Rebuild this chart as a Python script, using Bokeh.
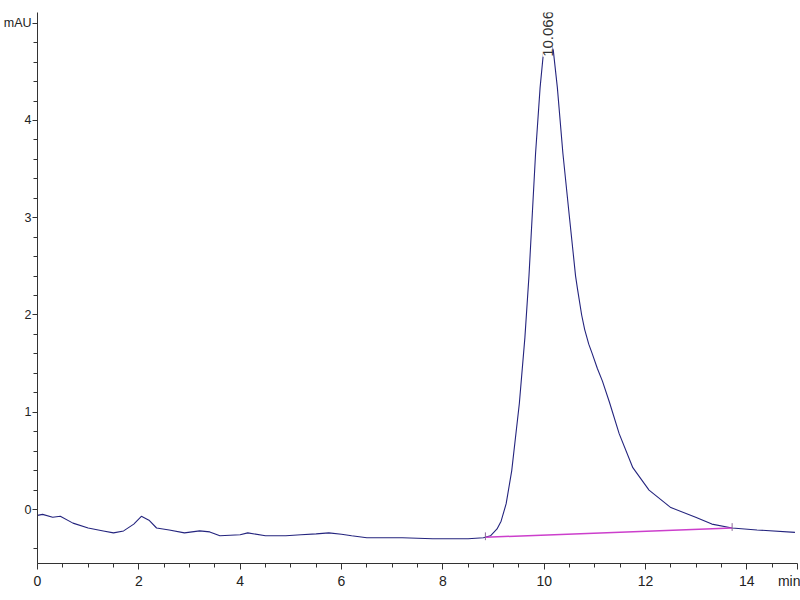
import math
from bokeh.plotting import figure
from bokeh.models import Range1d, FixedTicker, Label
from bokeh.embed import file_html
from bokeh.resources import INLINE

# ---- data ----
time_min = [0, 0.1, 0.3, 0.45, 0.7, 1.0, 1.3, 1.5, 1.7, 1.9, 2.05, 2.2, 2.35, 2.6, 2.9,
            3.2, 3.4, 3.6, 4.0, 4.15, 4.5, 4.9, 5.2, 5.5, 5.75, 6.0, 6.2, 6.5, 7.2, 7.8,
            8.5, 8.8, 8.94, 9.07, 9.15, 9.25, 9.36, 9.51, 9.62, 9.70, 9.83, 9.92, 9.99,
            10.07, 10.18, 10.26, 10.37, 10.50, 10.62, 10.66, 10.74, 10.80, 10.88, 10.95,
            11.05, 11.15, 11.29, 11.48, 11.75, 12.07, 12.5, 12.99, 13.31, 13.71, 14.2, 14.95]
signal_mau = [-0.06, -0.05, -0.08, -0.07, -0.14, -0.19, -0.22, -0.24, -0.22, -0.15, -0.07,
              -0.11, -0.19, -0.21, -0.24, -0.22, -0.23, -0.27, -0.26, -0.24, -0.27, -0.27,
              -0.26, -0.25, -0.24, -0.255, -0.27, -0.29, -0.29, -0.30, -0.30, -0.29, -0.27,
              -0.20, -0.12, 0.06, 0.40, 1.09, 1.77, 2.40, 3.66, 4.34, 4.72, 4.88, 4.72,
              4.34, 3.66, 3.00, 2.40, 2.26, 2.00, 1.85, 1.70, 1.60,
              1.45, 1.32, 1.10, 0.78, 0.43, 0.20, 0.02, -0.08, -0.15, -0.19, -0.21, -0.235]

baseline_time = [8.84, 13.71]
baseline_mau = [-0.285, -0.19]

peak_time = 10.066
peak_height = 4.88
peak_label = "10.066"

x_ticks = [0, 2, 4, 6, 8, 10, 12, 14, 15]
x_tick_labels = {15: "min"}
x_minor = [i * 0.5 for i in range(0, 30)]
y_ticks = [0, 1, 2, 3, 4, 5]
y_tick_labels = {5: "mAU"}
y_minor = [-0.4] + [round(i * 0.2, 1) for i in range(1, 26)]

TICK_FONT = "Liberation Sans"

p = figure(width=800, height=600, output_backend="svg", toolbar_location=None,
           x_range=Range1d(0, 15), y_range=Range1d(-0.555, 5.11),
           min_border_left=34, min_border_right=3, min_border_top=12, min_border_bottom=37)
p.outline_line_color = None
p.xgrid.visible = False
p.ygrid.visible = False
p.background_fill_color = "white"
p.border_fill_color = "white"

p.line(time_min, signal_mau, line_color="#24247e", line_width=1.1)
p.line(baseline_time, baseline_mau, line_color="#cc3fcc", line_width=1.5)
# small end markers of the integration baseline
p.segment(x0=baseline_time, y0=[v - 0.03 for v in baseline_mau],
          x1=baseline_time, y1=[v + 0.05 for v in baseline_mau],
          line_color="#8a6a9a", line_width=1)

for ax in (p.xaxis[0], p.yaxis[0]):
    ax.axis_line_color = "#333333"
    ax.major_tick_line_color = "#333333"
    ax.minor_tick_line_color = "#333333"
    ax.major_tick_in = 0
    ax.minor_tick_in = 0
    ax.minor_tick_out = 4
    ax.major_label_text_font = TICK_FONT
    ax.major_label_text_color = "#222222"

p.xaxis.major_tick_out = 6
p.xaxis.major_label_standoff = 3
p.xaxis.major_label_text_font_size = "14px"
p.yaxis.major_tick_out = 5
p.yaxis.major_label_standoff = 1
p.yaxis.major_label_text_font_size = "12.5px"

p.xaxis.ticker = FixedTicker(ticks=x_ticks, minor_ticks=x_minor)
p.yaxis.ticker = FixedTicker(ticks=y_ticks, minor_ticks=y_minor)
p.xaxis.major_label_overrides = x_tick_labels
p.yaxis.major_label_overrides = y_tick_labels

p.add_layout(Label(x=peak_time, y=peak_height, text=peak_label, angle=math.pi / 2,
                   y_offset=-22, text_align="left", text_baseline="middle",
                   text_font="Liberation Sans", text_font_size="15px",
                   text_color="#333333", background_fill_color="white"))

open("out.html", "w").write(file_html(p, INLINE))
